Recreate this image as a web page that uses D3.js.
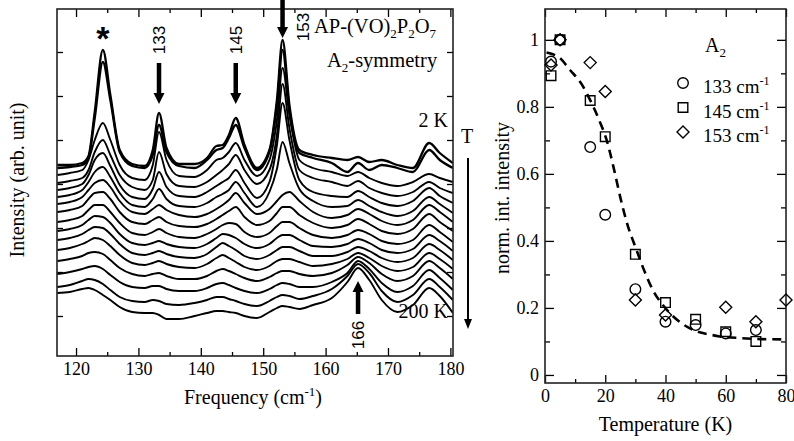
<!DOCTYPE html>
<html>
<head>
<meta charset="utf-8">
<script src="https://cdn.jsdelivr.net/npm/d3@7"></script>
<style>
  body { margin: 0; background: #fff; }
  text { font-family: "Liberation Serif", "Times New Roman", serif; fill: #000; }
</style>
</head>
<body>
<svg id="chart" width="794" height="441"></svg>
<script>
const WIDTH = 794;
const HEIGHT = 441;
const SANS = '"Liberation Sans", Arial, sans-serif';

// ---- left panel: Raman spectra, 2 K (top) ... 200 K (bottom) ----
const frequencies = [117, 119, 121, 122, 123, 124.3, 125.5, 127, 129, 131, 132.3, 133.3, 134.5, 136.5, 139,
  141, 142.5, 143.5, 144.5, 145.6, 147, 149, 151, 152.2, 153.1, 154.2, 155.8, 158, 161, 163.5,
  165.2, 167, 169, 171.5, 174, 176.6, 178.3, 180.4];
const spectrumOffsets = [192, 188, 179, 169, 159, 149, 139, 129, 118, 108, 98, 88, 77, 65, 53, 40];
const spectra = [
  [-1,-1,1,8,52,114,69,14,0,-2,14,51,16,0,0,6,18,19,29,46,19,-4,14,64,124,59,14,9,6,4,7,2,4,-1,-4,21,11,1],
  [0,1,3,10,50,106,68,16,2,0,13,43,16,2,0,8,18,20,30,43,20,-2,16,63,118,58,15,10,5,-4,5,-2,3,0,-4,18,8,0],
  [2,4,7,17,37,54,37,12,-1,-3,12,45,17,1,0,7,17,19,25,34,17,1,17,57,109,62,17,9,5,1,5,-1,-6,-9,-5,3,-1,-5],
  [4,6,9,17,35,47,32,12,0,-3,7,35,13,1,0,5,12,17,23,32,17,3,17,52,103,59,17,9,5,1,6,-1,-6,-9,-5,5,-1,-6],
  [7,9,13,22,37,44,31,12,0,-2,8,25,10,1,0,5,11,15,19,27,14,-1,15,52,94,57,17,5,1,0,6,0,-6,-9,-4,9,1,-6],
  [10,12,17,25,35,40,30,14,2,0,8,18,8,1,0,4,10,13,17,25,14,0,15,38,65,44,18,6,0,1,7,1,-5,-9,-4,10,3,-6],
  [13,15,20,27,34,37,30,16,5,3,8,12,7,2,0,3,8,12,17,24,14,3,8,16,22,25,16,5,-1,2,8,3,-4,-8,-3,12,5,-5],
  [15,17,21,28,34,35,28,15,5,3,7,10,5,1,0,3,8,12,16,20,10,2,6,14,20,20,12,4,-1,2,8,3,-4,-7,-2,13,5,-4],
  [16,18,22,28,33,33,26,15,5,3,6,9,5,1,0,4,9,13,15,14,6,1,5,12,16,16,10,3,0,3,8,4,-3,-6,-2,13,6,-4],
  [17,19,23,28,32,31,25,14,5,3,5,7,4,1,0,4,10,14,13,10,4,0,4,10,13,13,8,2,1,4,9,5,-2,-5,-1,13,7,-3],
  [18,20,24,28,31,30,24,14,5,3,5,7,4,1,0,4,11,15,12,8,2,-1,3,8,11,11,7,2,2,6,11,7,0,-4,0,14,8,-2],
  [18,20,24,27,30,28,22,13,5,3,5,7,4,1,0,4,10,13,10,6,1,-2,2,7,9,9,6,2,4,9,15,10,2,-3,1,15,9,-1],
  [18,20,23,26,27,25,19,11,5,3,5,6,3,0,0,3,8,10,8,5,1,-2,2,6,8,8,5,3,6,14,22,16,5,-2,3,18,11,0],
  [17,19,22,24,25,22,16,9,4,3,5,5,2,0,0,3,7,8,6,3,0,-2,2,6,8,7,4,4,9,18,30,22,8,-1,5,21,13,1],
  [16,18,22,24,23,19,13,6,2,1,3,2,-1,-2,0,3,6,6,4,2,-1,-3,2,6,8,7,4,7,14,27,39,30,12,1,8,24,16,3],
  [23,24,27,28,26,21,16,9,4,3,3,1,-3,-3,0,3,5,5,4,3,0,-2,4,8,10,9,7,11,18,34,48,36,16,4,11,28,20,3]
];
const freqTicks = [120, 130, 140, 150, 160, 170, 180];
const freqMinorTicks = [125, 135, 145, 155, 165, 175];
const intensityTicks = [40, 84, 128, 172, 216, 260, 304];

// ---- right panel: normalised integrated intensity ----
const temps133 = [2, 5, 15, 20, 30, 40, 50, 60, 70];
const int133 = [0.935, 1.0, 0.68, 0.478, 0.256, 0.159, 0.149, 0.124, 0.134];
const temps145 = [2, 5, 15, 20, 30, 40, 50, 60, 70];
const int145 = [0.893, 1.0, 0.819, 0.711, 0.36, 0.216, 0.166, 0.129, 0.1];
const temps153 = [2, 5, 15, 20, 30, 40, 60, 70, 80];
const int153 = [0.925, 1.0, 0.932, 0.846, 0.224, 0.179, 0.202, 0.159, 0.224];
const fitTemps = [0.5, 5, 8.3, 12, 15, 18, 20.5, 23, 25, 27, 30.5, 33, 36, 39, 42.5, 46, 50.4, 55, 58, 65, 72, 79.5];
const fitValues = [0.962, 0.945, 0.91, 0.87, 0.82, 0.76, 0.70, 0.61, 0.53, 0.46, 0.37, 0.31, 0.25, 0.21, 0.175, 0.15, 0.13, 0.12, 0.115, 0.11, 0.107, 0.106];
const tempTicks = [0, 20, 40, 60, 80];
const tempMinorTicks = [10, 30, 50, 70];
const normTicks = [0, 0.2, 0.4, 0.6, 0.8, 1];
const normMinorTicks = [0.1, 0.3, 0.5, 0.7, 0.9];
const legendLabels = ['133', '145', '153'];

const svg = d3.select('#chart');
svg.append('rect').attr('width', WIDTH).attr('height', HEIGHT).attr('fill', '#fff');

const L = { left: 57, right: 453, top: 9, bottom: 356 };
const R = { left: 545, right: 786, top: 9, bottom: 383 };

const xL = d3.scaleLinear().domain([116.95, 180.42]).range([L.left, L.right]);
const yL = d3.scaleLinear().domain([0, 347]).range([L.bottom, L.top]);
const xR = d3.scaleLinear().domain([0, 80]).range([R.left, R.right]);
const yR = d3.scaleLinear().domain([-0.024, 1.092]).range([R.bottom, R.top]);

drawLeftPanel();
drawRightPanel();

function tickAxis(axis, scale, values, size, transform, labels) {
  const g = svg.append('g')
    .attr('transform', transform)
    .call(axis(scale).tickValues(values).tickSize(size).tickPadding(6)
      .tickFormat(labels ? d3.format('') : ''));
  g.select('.domain').remove();
  g.selectAll('line').attr('stroke', '#000').attr('stroke-width', 1.3);
  g.selectAll('text')
    .style('font-family', '"Liberation Serif", "Times New Roman", serif')
    .style('font-size', '18px');
  return g;
}

function frame(b) {
  svg.append('rect')
    .attr('x', b.left).attr('y', b.top)
    .attr('width', b.right - b.left).attr('height', b.bottom - b.top)
    .attr('fill', 'none').attr('stroke', '#222').attr('stroke-width', 1.6);
}

function blockArrow(x, yTail, yTip, shaftW, headW, headL) {
  const dir = yTip > yTail ? 1 : -1;
  const yBase = yTip - dir * headL;
  const pts = [
    [x - shaftW / 2, yTail], [x + shaftW / 2, yTail], [x + shaftW / 2, yBase],
    [x + headW / 2, yBase], [x, yTip], [x - headW / 2, yBase], [x - shaftW / 2, yBase]
  ];
  svg.append('path').attr('d', d3.line()(pts) + 'Z').attr('fill', '#000');
}

function drawLeftPanel() {
  svg.append('clipPath').attr('id', 'clipL')
    .append('rect').attr('x', L.left).attr('y', L.top)
    .attr('width', L.right - L.left).attr('height', L.bottom - L.top);

  const line = d3.line()
    .x((d, i) => xL(frequencies[i]))
    .y(d => yL(d))
    .curve(d3.curveMonotoneX);

  svg.append('g').attr('clip-path', 'url(#clipL)')
    .selectAll('path')
    .data(spectra)
    .enter()
    .append('path')
    .attr('d', (s, k) => line(s.map(v => v + spectrumOffsets[k])))
    .attr('fill', 'none')
    .attr('stroke', '#000')
    .attr('stroke-width', (s, k) => k < 2 ? 2.3 : 1.9)
    .attr('stroke-linejoin', 'round');

  tickAxis(d3.axisBottom, xL, freqTicks, -8, `translate(0,${L.bottom})`, true);
  tickAxis(d3.axisBottom, xL, freqMinorTicks, -4, `translate(0,${L.bottom})`, false);
  tickAxis(d3.axisTop, xL, freqTicks, -8, `translate(0,${L.top})`, false);
  tickAxis(d3.axisTop, xL, freqMinorTicks, -4, `translate(0,${L.top})`, false);
  tickAxis(d3.axisLeft, yL, intensityTicks, -6, `translate(${L.left},0)`, false);
  tickAxis(d3.axisRight, yL, intensityTicks, -6, `translate(${L.right},0)`, false);
  frame(L);

  // axis titles
  const xt = svg.append('text')
    .attr('x', (L.left + L.right) / 2 - 2).attr('y', 404)
    .attr('text-anchor', 'middle').style('font-size', '20px');
  xt.append('tspan').text('Frequency (cm');
  xt.append('tspan').attr('dy', -8).style('font-size', '13px').text('-1');
  xt.append('tspan').attr('dy', 8).text(')');

  svg.append('text')
    .attr('transform', 'translate(24,180) rotate(-90)')
    .attr('text-anchor', 'middle').style('font-size', '20px')
    .text('Intensity (arb. unit)');

  // peak markers
  svg.append('text').attr('x', xL(124.3)).attr('y', 50)
    .attr('text-anchor', 'middle').style('font-size', '34px').style('font-weight', 'bold')
    .style('font-family', SANS).text('*');

  [[133.3, 40], [145.6, 40]].forEach(([f, yc]) => {
    svg.append('text')
      .attr('transform', `translate(${xL(f) + 6},${yc}) rotate(-90)`)
      .attr('text-anchor', 'middle').style('font-size', '17px').style('font-family', SANS)
      .text(f < 140 ? '133' : '145');
    blockArrow(xL(f), 63, 104, 4.5, 11, 11);
  });
  blockArrow(xL(153.1), 0, 38, 4.5, 11, 11);
  svg.append('text')
    .attr('transform', `translate(${xL(153.1) + 26},27) rotate(-90)`)
    .attr('text-anchor', 'middle').style('font-size', '17px').style('font-family', SANS)
    .text('153');

  blockArrow(xL(165.2), 314, 281, 4.5, 11, 11);
  svg.append('text')
    .attr('transform', `translate(${xL(165.2) + 6},335) rotate(-90)`)
    .attr('text-anchor', 'middle').style('font-size', '17px').style('font-family', SANS)
    .text('166');

  // compound / symmetry labels
  const t1 = svg.append('text').attr('x', 314).attr('y', 33).style('font-size', '20.5px');
  t1.append('tspan').text('AP-(VO)');
  t1.append('tspan').attr('dy', 5).style('font-size', '13px').text('2');
  t1.append('tspan').attr('dy', -5).text('P');
  t1.append('tspan').attr('dy', 5).style('font-size', '13px').text('2');
  t1.append('tspan').attr('dy', -5).text('O');
  t1.append('tspan').attr('dy', 5).style('font-size', '13px').text('7');

  const t2 = svg.append('text').attr('x', 327).attr('y', 67).style('font-size', '20.5px');
  t2.append('tspan').text('A');
  t2.append('tspan').attr('dy', 5).style('font-size', '13px').text('2');
  t2.append('tspan').attr('dy', -5).text('-symmetry');

  svg.append('text').attr('x', 448).attr('y', 127).attr('text-anchor', 'end')
    .style('font-size', '20px').text('2 K');
  svg.append('text').attr('x', 448).attr('y', 318).attr('text-anchor', 'end')
    .style('font-size', '20px').text('200 K');

  // temperature arrow
  svg.append('text').attr('x', 467).attr('y', 143).attr('text-anchor', 'middle')
    .style('font-size', '20px').text('T');
  blockArrow(468, 158, 329, 2, 8, 10);
}

function drawRightPanel() {
  tickAxis(d3.axisBottom, xR, tempTicks, -8, `translate(0,${R.bottom})`, true);
  tickAxis(d3.axisBottom, xR, tempMinorTicks, -4, `translate(0,${R.bottom})`, false);
  tickAxis(d3.axisTop, xR, tempTicks, -8, `translate(0,${R.top})`, false);
  tickAxis(d3.axisTop, xR, tempMinorTicks, -4, `translate(0,${R.top})`, false);
  const ya = tickAxis(d3.axisLeft, yR, normTicks, -9, `translate(${R.left},0)`, false);
  ya.selectAll('text').remove();
  svg.append('g').selectAll('text').data(normTicks).enter().append('text')
    .attr('x', R.left - 6).attr('y', d => yR(d) + 6)
    .attr('text-anchor', 'end').style('font-size', '18px')
    .text(d => d3.format('')(d));
  tickAxis(d3.axisLeft, yR, normMinorTicks, -5, `translate(${R.left},0)`, false);
  tickAxis(d3.axisRight, yR, normTicks, -9, `translate(${R.right},0)`, false);
  tickAxis(d3.axisRight, yR, normMinorTicks, -5, `translate(${R.right},0)`, false);
  frame(R);

  svg.append('text')
    .attr('x', (R.left + R.right) / 2).attr('y', 431)
    .attr('text-anchor', 'middle').style('font-size', '20px')
    .text('Temperature (K)');
  svg.append('text')
    .attr('transform', 'translate(509,198) rotate(-90)')
    .attr('text-anchor', 'middle').style('font-size', '20px')
    .text('norm. int. intensity');

  // fit curve
  svg.append('path')
    .datum(fitTemps.map((t, i) => [t, fitValues[i]]))
    .attr('d', d3.line().x(d => xR(d[0])).y(d => yR(d[1])).curve(d3.curveMonotoneX))
    .attr('fill', 'none').attr('stroke', '#000')
    .attr('stroke-width', 2.6).attr('stroke-dasharray', '9,6');

  const shapes = [circlePath, squarePath, diamondPath];
  const series = [[temps133, int133], [temps145, int145], [temps153, int153]];
  series.forEach(([ts, vs], k) => {
    svg.append('g').selectAll('path')
      .data(ts.map((t, i) => [t, vs[i]]))
      .enter().append('path')
      .attr('d', d => shapes[k](xR(d[0]), yR(d[1])))
      .attr('fill', 'none').attr('stroke', '#000').attr('stroke-width', 1.4);
  });

  // legend
  const a2 = svg.append('text').attr('x', 705).attr('y', 52).style('font-size', '20px');
  a2.append('tspan').text('A');
  a2.append('tspan').attr('dy', 5).style('font-size', '13px').text('2');

  legendLabels.forEach((lab, k) => {
    const yc = 83 + k * 24.5;
    svg.append('path').attr('d', shapes[k](683, yc))
      .attr('fill', 'none').attr('stroke', '#000').attr('stroke-width', 1.4);
    const t = svg.append('text').attr('x', 703).attr('y', yc + 10).style('font-size', '19px');
    t.append('tspan').text(lab + ' cm');
    t.append('tspan').attr('dy', -8).style('font-size', '12px').text('-1');
  });
}

function circlePath(x, y) {
  const r = 5.3;
  return `M${x - r},${y}a${r},${r} 0 1,0 ${2 * r},0a${r},${r} 0 1,0 ${-2 * r},0Z`;
}
function squarePath(x, y) {
  const h = 4.8;
  return `M${x - h},${y - h}h${2 * h}v${2 * h}h${-2 * h}Z`;
}
function diamondPath(x, y) {
  const h = 6;
  return `M${x},${y - h}L${x + h},${y}L${x},${y + h}L${x - h},${y}Z`;
}
</script>
</body>
</html>
